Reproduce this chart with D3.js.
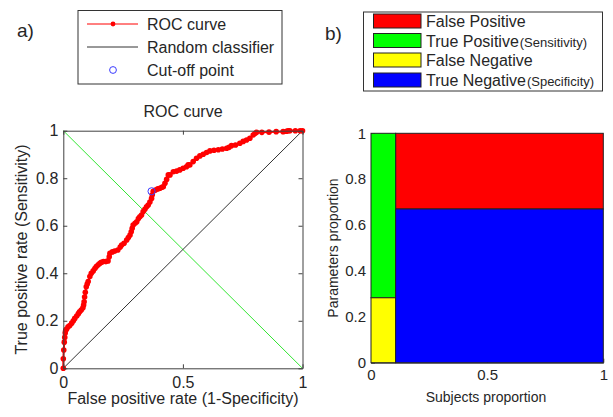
<!DOCTYPE html>
<html>
<head>
<meta charset="utf-8">
<script src="https://cdn.jsdelivr.net/npm/d3@7"></script>
<style>
  html, body { margin: 0; padding: 0; background: #fff; }
  svg { display: block; font-family: "Liberation Sans", Arial, sans-serif; }
</style>
</head>
<body>
<svg id="chart" width="613" height="417"></svg>
<script>
// ---------- DATA ----------
// ROC curve points: [false positive rate, true positive rate]
const rocPoints = [
  [0,0],[0,0.04],[0.002,0.077],[0.004,0.11],[0.006,0.13],[0.008,0.149],[0.01,0.16],[0.014,0.165],
  [0.02,0.175],[0.027,0.18],[0.035,0.19],[0.042,0.2],[0.048,0.21],[0.056,0.22],[0.063,0.23],
  [0.068,0.238],[0.075,0.245],[0.082,0.255],[0.085,0.266],[0.087,0.28],[0.089,0.3],[0.092,0.32],
  [0.096,0.343],[0.1,0.355],[0.104,0.365],[0.111,0.386],[0.117,0.4],[0.125,0.41],[0.132,0.42],
  [0.138,0.428],[0.146,0.436],[0.153,0.442],[0.159,0.446],[0.168,0.449],[0.178,0.449],[0.187,0.452],
  [0.192,0.47],[0.195,0.484],[0.205,0.49],[0.215,0.494],[0.228,0.498],[0.238,0.51],[0.244,0.519],
  [0.254,0.526],[0.265,0.54],[0.272,0.55],[0.279,0.561],[0.284,0.575],[0.288,0.589],[0.292,0.603],
  [0.3,0.61],[0.307,0.617],[0.314,0.63],[0.32,0.638],[0.327,0.645],[0.334,0.66],[0.341,0.669],
  [0.348,0.68],[0.355,0.687],[0.362,0.7],[0.369,0.715],[0.372,0.73],[0.376,0.745],[0.385,0.75],
  [0.395,0.755],[0.404,0.758],[0.412,0.762],[0.418,0.764],[0.425,0.779],[0.432,0.795],[0.439,0.814],
  [0.446,0.814],[0.46,0.827],[0.474,0.83],[0.487,0.835],[0.501,0.842],[0.515,0.848],[0.522,0.856],
  [0.529,0.856],[0.543,0.87],[0.557,0.884],[0.571,0.894],[0.585,0.901],[0.599,0.908],[0.613,0.915],
  [0.63,0.918],[0.648,0.92],[0.665,0.923],[0.683,0.926],[0.693,0.93],[0.703,0.937],[0.72,0.94],
  [0.738,0.947],[0.752,0.955],[0.766,0.961],[0.78,0.968],[0.794,0.982],[0.801,0.988],[0.808,0.993],
  [0.83,0.993],[0.86,0.994],[0.89,0.996],[0.919,0.996],[0.933,0.998],[0.94,1],[0.947,1],
  [0.97,1],[0.99,1],[1,1]
];
const cutoffPoint = [0.369, 0.745];
const randomLine = [[0,0],[1,1]];
const crossLine = [[0,1],[1,0]];

const rocXTicks = [0, 0.5, 1];
const rocYTicks = [0, 0.2, 0.4, 0.6, 0.8, 1];
const rocLegendLabels = ["ROC curve", "Random classifier", "Cut-off point"];

// Mosaic (panel b)
const mosaicLabels = ["False Positive", "True Positive", "False Negative", "True Negative"];
const mosaicNotes = ["", "(Sensitivity)", "", "(Specificity)"];
const mosaicX0 = [0.106, 0, 0, 0.106];
const mosaicX1 = [1, 0.106, 0.106, 1];
const mosaicY0 = [0.67, 0.283, 0, 0];
const mosaicY1 = [1, 1, 0.283, 0.67];
const mosaicXTicks = [0, 0.5, 1];
const mosaicYTicks = [0, 0.2, 0.4, 0.6, 0.8, 1];

// ---------- STYLE ----------
const mosaicColors = ["#ff0000", "#00ff00", "#ffff00", "#0000ff"];
const textColor = "#262626";
const axisColor = "#404040";

const svg = d3.select("#chart");

// ---------- PANEL A ----------
const xA = d3.scaleLinear().domain([0, 1]).range([63.3, 302.5]);
const yA = d3.scaleLinear().domain([0, 1]).range([368.3, 130.7]);
const gA = svg.append("g");

function styleAxis(g, fs) {
  g.selectAll("path.domain").attr("stroke", axisColor);
  g.selectAll(".tick line").attr("stroke", axisColor);
  g.selectAll(".tick text").attr("fill", textColor).style("font-size", fs + "px")
    .style("font-family", "'Liberation Sans', Arial, sans-serif");
}

// diagonal lines
const lineA = d3.line().x(d => xA(d[0])).y(d => yA(d[1]));
gA.append("path").datum(crossLine).attr("d", lineA).attr("fill", "none")
  .attr("stroke", "#33e633").attr("stroke-width", 1);
gA.append("path").datum(randomLine).attr("d", lineA).attr("fill", "none")
  .attr("stroke", "#333").attr("stroke-width", 1);

// ROC curve
gA.append("path").datum(rocPoints).attr("d", lineA).attr("fill", "none")
  .attr("stroke", "#ff0000").attr("stroke-width", 2);
gA.selectAll("circle.roc").data(rocPoints).join("circle").attr("class", "roc")
  .attr("cx", d => xA(d[0])).attr("cy", d => yA(d[1])).attr("r", 2.8)
  .attr("fill", "#ff0000");

// cut-off
gA.append("circle").attr("cx", xA(cutoffPoint[0])).attr("cy", yA(cutoffPoint[1]))
  .attr("r", 3.6).attr("fill", "none").attr("stroke", "#3c3cff").attr("stroke-width", 1);

// axes
const axB = gA.append("g").attr("transform", `translate(0,${yA(0)})`)
  .call(d3.axisBottom(xA).tickValues(rocXTicks).tickFormat(d3.format("")).tickSizeInner(-4).tickSizeOuter(0).tickPadding(8));
const axT = gA.append("g").attr("transform", `translate(0,${yA(1)})`)
  .call(d3.axisTop(xA).tickValues(rocXTicks).tickFormat("").tickSizeInner(-4).tickSizeOuter(0));
const axL = gA.append("g").attr("transform", `translate(${xA(0)},0)`)
  .call(d3.axisLeft(yA).tickValues(rocYTicks).tickFormat(d3.format("")).tickSizeInner(-4).tickSizeOuter(0).tickPadding(5));
const axR = gA.append("g").attr("transform", `translate(${xA(1)},0)`)
  .call(d3.axisRight(yA).tickValues(rocYTicks).tickFormat("").tickSizeInner(-4).tickSizeOuter(0));
[axB, axT, axL, axR].forEach(a => styleAxis(a, 16));

// titles
gA.append("text").attr("x", 183).attr("y", 117).attr("text-anchor", "middle")
  .attr("fill", textColor).style("font-size", "16px").text("ROC curve");
gA.append("text").attr("x", 183).attr("y", 404).attr("text-anchor", "middle")
  .attr("fill", textColor).style("font-size", "16px").text("False positive rate (1-Specificity)");
gA.append("text").attr("transform", `translate(27,${(yA(0) + yA(1)) / 2}) rotate(-90)`)
  .attr("text-anchor", "middle").attr("fill", textColor).style("font-size", "16px")
  .text("True positive rate (Sensitivity)");
gA.append("text").attr("x", 17).attr("y", 37).attr("fill", textColor)
  .style("font-size", "19px").text("a)");

// legend a
const legA = gA.append("g");
legA.append("rect").attr("x", 78).attr("y", 10.5).attr("width", 204).attr("height", 73.5)
  .attr("fill", "#fff").attr("stroke", "#333").attr("stroke-width", 1);
const legRowY = [24, 47, 70];
legA.append("line").attr("x1", 87).attr("x2", 138).attr("y1", legRowY[0]).attr("y2", legRowY[0])
  .attr("stroke", "#ff0000").attr("stroke-width", 1);
legA.append("circle").attr("cx", 113).attr("cy", legRowY[0]).attr("r", 2.4).attr("fill", "#ff0000");
legA.append("line").attr("x1", 87).attr("x2", 138).attr("y1", legRowY[1]).attr("y2", legRowY[1])
  .attr("stroke", "#333").attr("stroke-width", 1);
legA.append("circle").attr("cx", 113).attr("cy", legRowY[2]).attr("r", 3.4)
  .attr("fill", "none").attr("stroke", "#3c3cff").attr("stroke-width", 1);
legA.selectAll("text.lg").data(rocLegendLabels).join("text").attr("class", "lg")
  .attr("x", 147).attr("y", (d, i) => legRowY[i] + 6).attr("fill", textColor)
  .style("font-size", "16px").text(d => d);

// ---------- PANEL B ----------
const xB = d3.scaleLinear().domain([0, 1]).range([371, 603.3]);
const yB = d3.scaleLinear().domain([0, 1]).range([362.7, 133.3]);
const gB = svg.append("g");

const axBB = gB.append("g").attr("transform", `translate(0,${yB(0)})`)
  .call(d3.axisBottom(xB).tickValues(mosaicXTicks).tickFormat(d3.format("")).tickSizeInner(-4).tickSizeOuter(0).tickPadding(7));
const axBL = gB.append("g").attr("transform", `translate(${xB(0)},0)`)
  .call(d3.axisLeft(yB).tickValues(mosaicYTicks).tickFormat(d3.format("")).tickSizeInner(-4).tickSizeOuter(0).tickPadding(5));
[axBB, axBL].forEach(a => styleAxis(a, 15));

gB.selectAll("rect.cell").data(mosaicLabels).join("rect").attr("class", "cell")
  .attr("x", (d, i) => xB(mosaicX0[i])).attr("y", (d, i) => yB(mosaicY1[i]))
  .attr("width", (d, i) => xB(mosaicX1[i]) - xB(mosaicX0[i]))
  .attr("height", (d, i) => yB(mosaicY0[i]) - yB(mosaicY1[i]))
  .attr("fill", (d, i) => mosaicColors[i]).attr("stroke", "#222").attr("stroke-width", 1);

gB.append("text").attr("x", 486).attr("y", 402).attr("text-anchor", "middle")
  .attr("fill", textColor).style("font-size", "14px").text("Subjects proportion");
gB.append("text").attr("transform", `translate(338,${(yB(0) + yB(1)) / 2}) rotate(-90)`)
  .attr("text-anchor", "middle").attr("fill", textColor).style("font-size", "14px")
  .text("Parameters proportion");
gB.append("text").attr("x", 325).attr("y", 40).attr("fill", textColor)
  .style("font-size", "19px").text("b)");

// legend b
const legB = gB.append("g");
legB.append("rect").attr("x", 363.5).attr("y", 12).attr("width", 239).attr("height", 79)
  .attr("fill", "#fff").attr("stroke", "#333").attr("stroke-width", 1);
const legBRowY = [21, 40.5, 60, 80];
legB.selectAll("rect.sw").data(mosaicLabels).join("rect").attr("class", "sw")
  .attr("x", 373.5).attr("y", (d, i) => legBRowY[i] - 7).attr("width", 47.5).attr("height", 14)
  .attr("fill", (d, i) => mosaicColors[i]).attr("stroke", "#222").attr("stroke-width", 1);
const lt = legB.selectAll("text.lt").data(mosaicLabels).join("text").attr("class", "lt")
  .attr("x", 426).attr("y", (d, i) => legBRowY[i] + 6).attr("fill", textColor)
  .style("font-size", "16px");
lt.append("tspan").text(d => d);
lt.append("tspan").style("font-size", "13px").attr("dx", 1).text((d, i) => mosaicNotes[i]);
</script>
</body>
</html>
